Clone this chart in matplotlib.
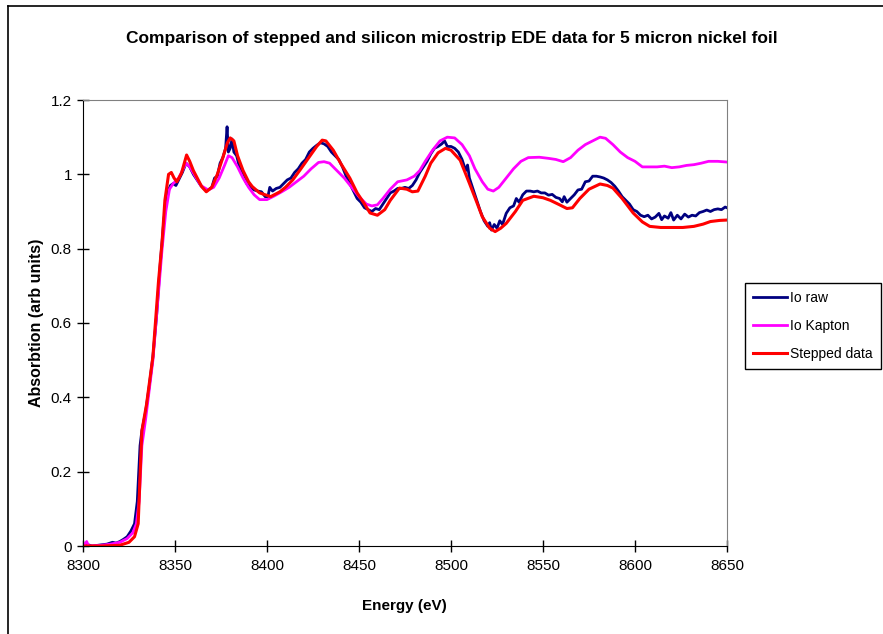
import numpy as np
import matplotlib
matplotlib.use('Agg')
import matplotlib.pyplot as plt
from matplotlib.lines import Line2D

plt.rcParams['font.family'] = ['Liberation Sans', 'DejaVu Sans']

# DATA ------------------------------------------------------------------------
# Io raw (navy, noisy)
energy_raw = [8300, 8301, 8303, 8305, 8310, 8313, 8316, 8318, 8320, 8322, 8324, 8326, 8328,
              8329.5, 8331, 8332, 8334, 8336, 8338, 8340, 8342, 8344, 8346, 8347.5, 8349,
              8350.5, 8352, 8354, 8356, 8358, 8360, 8362, 8364, 8366, 8368, 8370, 8371.5,
              8373, 8374.5, 8376, 8377.5, 8378.3, 8379, 8380, 8381, 8382, 8383.5, 8385, 8387,
              8389, 8391, 8393, 8395, 8397, 8399, 8400.5, 8401.5, 8403, 8405, 8407, 8409,
              8411, 8413, 8415, 8417, 8419, 8421, 8423, 8425, 8427, 8429, 8431, 8433, 8435,
              8437, 8439, 8441, 8443, 8445, 8447, 8449, 8451, 8453, 8455, 8457, 8459, 8461,
              8463, 8465, 8467, 8469, 8471, 8473, 8475, 8477, 8479, 8481, 8483, 8485, 8487,
              8489, 8491, 8493, 8495, 8496.5, 8498, 8500, 8502, 8504, 8506, 8508, 8509, 8510,
              8512, 8514, 8516, 8518, 8520, 8521, 8522, 8523.5, 8525, 8526.5, 8528, 8530,
              8532, 8534, 8535.5, 8537, 8539, 8541, 8543, 8545, 8547, 8549, 8551, 8553, 8555,
              8557, 8559, 8560.5, 8561.5, 8563, 8565, 8567, 8569, 8571, 8573, 8575, 8577,
              8579, 8581, 8583, 8585, 8587, 8589, 8591, 8593, 8595, 8597, 8599, 8601, 8603,
              8605, 8607, 8609, 8611, 8613, 8614.5, 8616, 8618, 8619.5, 8621, 8623, 8625,
              8627, 8629, 8631, 8633, 8635, 8637, 8639, 8641, 8643, 8645, 8647, 8649, 8650]
absorb_raw = [0.005, 0.0, 0.003, 0.0, 0.003, 0.005, 0.01, 0.008, 0.012, 0.018, 0.025, 0.04, 0.06,
              0.12, 0.27, 0.31, 0.36, 0.43, 0.51, 0.62, 0.76, 0.88, 0.95, 0.97, 0.975,
              0.97, 0.985, 1.005, 1.03, 1.02, 1.0, 0.985, 0.97, 0.96, 0.958, 0.965, 0.99,
              0.995, 1.03, 1.045, 1.07, 1.128, 1.06, 1.07, 1.095, 1.06, 1.05, 1.02, 0.995,
              0.975, 0.965, 0.958, 0.955, 0.953, 0.94, 0.94, 0.965, 0.955, 0.962, 0.965, 0.975,
              0.985, 0.99, 1.005, 1.015, 1.03, 1.04, 1.06, 1.07, 1.078, 1.085, 1.082, 1.075, 1.06,
              1.05, 1.04, 1.02, 0.995, 0.975, 0.955, 0.935, 0.925, 0.91, 0.905, 0.9, 0.908, 0.905,
              0.92, 0.935, 0.95, 0.955, 0.962, 0.962, 0.965, 0.962, 0.97, 0.985, 1.005, 1.02, 1.035,
              1.055, 1.07, 1.075, 1.082, 1.09, 1.075, 1.075, 1.07, 1.06, 1.04, 1.01, 1.025, 0.99,
              0.96, 0.93, 0.9, 0.875, 0.86, 0.87, 0.85, 0.865, 0.855, 0.875, 0.865, 0.895,
              0.91, 0.915, 0.935, 0.925, 0.945, 0.955, 0.955, 0.953, 0.955, 0.95, 0.95, 0.944, 0.946,
              0.938, 0.935, 0.926, 0.94, 0.925, 0.935, 0.945, 0.958, 0.96, 0.98, 0.982, 0.995,
              0.995, 0.993, 0.99, 0.985, 0.978, 0.968, 0.955, 0.94, 0.93, 0.92, 0.905, 0.9, 0.89,
              0.886, 0.89, 0.88, 0.885, 0.895, 0.878, 0.888, 0.882, 0.897, 0.877, 0.89, 0.88,
              0.893, 0.885, 0.89, 0.888, 0.897, 0.9, 0.904, 0.9, 0.905, 0.907, 0.905, 0.912, 0.91]

# Io Kapton (magenta)
energy_kap = [8300, 8302, 8303, 8310, 8315, 8320, 8324, 8327, 8329, 8330.5, 8332, 8334, 8336,
              8338, 8341, 8343, 8345, 8347, 8349, 8352, 8354, 8356, 8358, 8361, 8364, 8368,
              8371, 8374, 8377, 8379, 8381, 8384, 8387, 8390, 8393, 8396, 8400, 8404, 8408,
              8412, 8416, 8420, 8424, 8428, 8431, 8434, 8438, 8442, 8446, 8450, 8454, 8457,
              8460, 8463, 8467, 8471, 8476, 8480, 8483, 8486, 8490, 8494, 8498, 8502, 8506,
              8510, 8513, 8517, 8520, 8523, 8526, 8530, 8534, 8538, 8542, 8548, 8553, 8557,
              8561, 8565, 8569, 8573, 8577, 8581, 8584, 8588, 8592, 8596, 8600, 8604, 8608,
              8612, 8616, 8620, 8624, 8628, 8632, 8636, 8640, 8645, 8650]
absorb_kap = [0.0, 0.012, 0.0, 0.002, 0.005, 0.01, 0.02, 0.035, 0.06, 0.12, 0.27, 0.34, 0.42,
              0.5, 0.68, 0.8, 0.9, 0.96, 0.975, 0.99, 1.01, 1.03, 1.02, 0.995, 0.97, 0.958,
              0.965, 0.99, 1.025, 1.05, 1.045, 1.02, 0.99, 0.965, 0.945, 0.932, 0.932, 0.942, 0.953,
              0.965, 0.98, 0.995, 1.015, 1.032, 1.034, 1.03, 1.01, 0.99, 0.965, 0.94, 0.92, 0.915,
              0.918, 0.935, 0.96, 0.98, 0.985, 0.995, 1.01, 1.035, 1.065, 1.09, 1.1, 1.098, 1.08,
              1.05, 1.015, 0.98, 0.96, 0.955, 0.965, 0.99, 1.015, 1.035, 1.045, 1.046, 1.043, 1.04,
              1.034, 1.045, 1.065, 1.08, 1.09, 1.1, 1.097, 1.08, 1.06, 1.045, 1.035, 1.02, 1.02,
              1.02, 1.022, 1.018, 1.02, 1.024, 1.026, 1.03, 1.035, 1.035, 1.033]

# Stepped data (red)
energy_step = [8300, 8310, 8320, 8325, 8328, 8330, 8331.5, 8332, 8334.5, 8338, 8341, 8343,
               8344.5, 8346.5, 8348, 8349.5, 8351, 8353.5, 8356.3, 8358, 8360, 8364.5, 8367,
               8370, 8373, 8376, 8378.5, 8380, 8382, 8384, 8387, 8390, 8392, 8396, 8402, 8407,
               8410, 8414, 8418, 8423, 8427, 8430, 8432, 8436, 8440, 8445, 8449, 8453, 8456,
               8460, 8464, 8467, 8472, 8476, 8479, 8482, 8486, 8489, 8493, 8497, 8500, 8505,
               8510, 8514, 8517, 8521, 8524, 8527, 8530, 8535, 8539, 8545, 8550, 8554, 8559,
               8563, 8566, 8570, 8575, 8581, 8585, 8588, 8593, 8599, 8604, 8608, 8614, 8620,
               8626, 8632, 8637, 8641, 8646, 8650]
absorb_step = [0.0, 0.0, 0.002, 0.01, 0.025, 0.06, 0.25, 0.31, 0.38, 0.51, 0.71, 0.82,
               0.93, 1.0, 1.005, 0.99, 0.98, 1.003, 1.052, 1.035, 1.01, 0.967, 0.953,
               0.965, 1.0, 1.045, 1.085, 1.098, 1.09, 1.05, 1.01, 0.98, 0.967, 0.95, 0.94, 0.953,
               0.965, 0.985, 1.012, 1.047, 1.075, 1.092, 1.09, 1.065, 1.03, 0.99, 0.95, 0.92, 0.896,
               0.89, 0.905, 0.93, 0.963, 0.96, 0.953, 0.955, 0.995, 1.03, 1.058, 1.07, 1.065, 1.038,
               0.976, 0.925, 0.886, 0.855, 0.846, 0.855, 0.868, 0.9, 0.93, 0.941, 0.937, 0.93, 0.918,
               0.908, 0.91, 0.935, 0.96, 0.974, 0.97, 0.963, 0.935, 0.896, 0.872, 0.86, 0.857, 0.857,
               0.857, 0.86, 0.866, 0.873, 0.876, 0.877]

x_ticks = [8300, 8350, 8400, 8450, 8500, 8550, 8600, 8650]
y_ticks = [0, 0.2, 0.4, 0.6, 0.8, 1, 1.2]
y_ticklabels = ['0', '0.2', '0.4', '0.6', '0.8', '1', '1.2']

# PLOT ------------------------------------------------------------------------
fig = plt.figure(figsize=(8.83, 6.34), dpi=100)
ax = fig.add_axes([83/883, 1 - 546/634, (727 - 83)/883, (546 - 100)/634])

ax.plot(energy_raw, absorb_raw, color='#000080', lw=2.0, label='Io raw')
ax.plot(energy_kap, absorb_kap, color='#FF00FF', lw=2.0, label='Io Kapton')
ax.plot(energy_step, absorb_step, color='#FF0000', lw=2.2, label='Stepped data')

ax.set_xlim(8300, 8650)
ax.set_ylim(0, 1.2)
ax.set_xticks(x_ticks)
ax.set_yticks(y_ticks)
ax.set_yticklabels(y_ticklabels)
ax.tick_params(direction='inout', length=8, width=1, labelsize=11, colors='black')
ax.tick_params(axis='x', pad=5)
ax.tick_params(axis='y', pad=4)

for side in ['top', 'right']:
    ax.spines[side].set_color('#808080')
for side in ['left', 'bottom']:
    ax.spines[side].set_color('black')

fig.text(0.512, 1 - 38/634, 'Comparison of stepped and silicon microstrip EDE data for 5 micron nickel foil',
         ha='center', va='center', fontsize=12.5, fontweight='bold')
fig.text(404/883, 1 - 606/634, 'Energy (eV)', ha='center', va='center', fontsize=11, fontweight='bold')
fig.text(37/883, 1 - 323/634, 'Absorbtion (arb units)', ha='center', va='center', fontsize=11.5,
         fontweight='bold', rotation=90)

leg = fig.legend(loc='center left', bbox_to_anchor=(745/883, 1 - 326/634), borderaxespad=0,
                 fontsize=10, handlelength=2.4, handletextpad=0.25, borderpad=0.6,
                 labelspacing=1.0, fancybox=False, framealpha=1, edgecolor='black')
leg.get_frame().set_linewidth(1)

# border of the chart area
fig.add_artist(Line2D([8/883, 8/883], [0, 1 - 6/634], color='black', lw=1.2))
fig.add_artist(Line2D([8/883, 1], [1 - 6/634, 1 - 6/634], color='black', lw=1.2))

plt.savefig('out.png', dpi=100)
